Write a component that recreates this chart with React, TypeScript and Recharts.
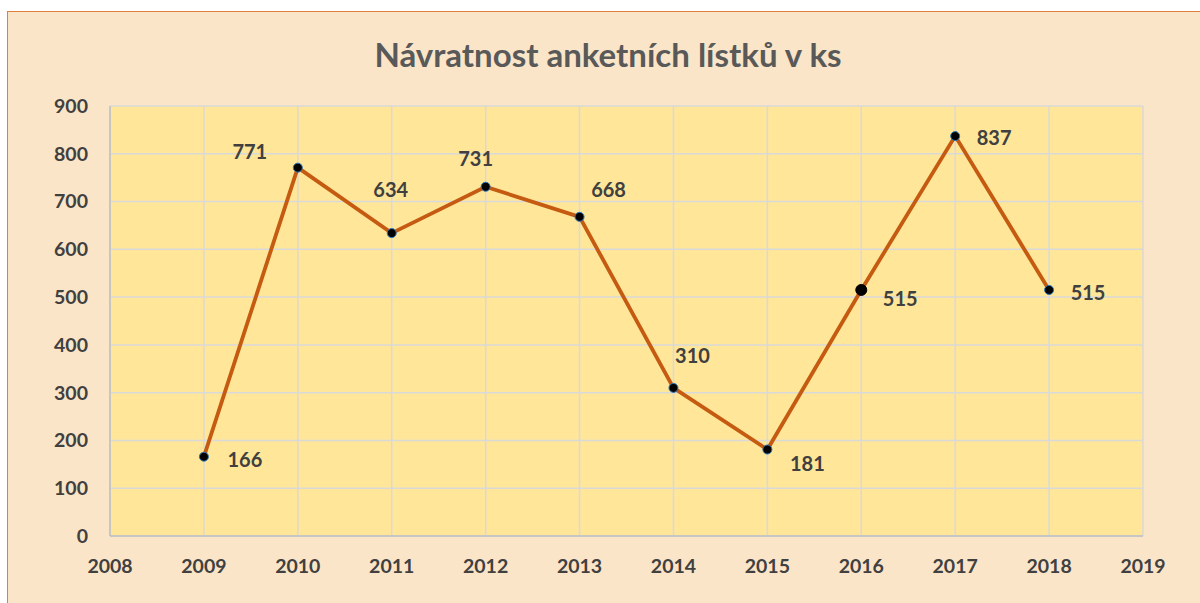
import { LineChart, Line, XAxis, YAxis, CartesianGrid, LabelList } from "recharts";

// Návratnost anketních lístků – returned survey forms per year
const YEARS = [2009, 2010, 2011, 2012, 2013, 2014, 2015, 2016, 2017, 2018];
const RETURNS = [166, 771, 634, 731, 668, 310, 181, 515, 837, 515];
const X_TICKS = [2008, 2009, 2010, 2011, 2012, 2013, 2014, 2015, 2016, 2017, 2018, 2019];
const Y_TICKS = [0, 100, 200, 300, 400, 500, 600, 700, 800, 900];

// where each data label sits relative to its point (Excel put them by hand)
const LABEL_OFFSETS: [number, number][] = [
  [41, 2],
  [-48, -17],
  [-1, -44],
  [-10, -29],
  [29, -28],
  [19, -33],
  [40, 13],
  [39, 8],
  [39, 1],
  [39, 2],
];

const FONT = "Lato, 'Open Sans', sans-serif";
const TEXT = "#404040";

const data = YEARS.map((year, i) => ({ year, value: RETURNS[i] }));

function ValueLabel(props: any) {
  const { x, y, value, index } = props;
  const [dx, dy] = LABEL_OFFSETS[index] ?? [0, -15];
  return (
    <text
      x={x + dx}
      y={y + dy}
      textAnchor="middle"
      dominantBaseline="central"
      fontFamily={FONT}
      fontWeight={700}
      fontSize={20}
      fill={TEXT}
    >
      {value}
    </text>
  );
}

function Dot(props: any) {
  const { cx, cy, index } = props;
  const big = index === 7;
  return (
    <circle
      cx={cx}
      cy={cy}
      r={big ? 5.5 : 4.5}
      fill="#000"
      stroke={big ? "#000" : "#2E75B6"}
      strokeWidth={1}
    />
  );
}

export default function App() {
  return (
    <div style={{ position: "absolute", left: 0, top: 0, width: 1200, height: 603, background: "#fff", overflow: "hidden" }}>
      <div
        style={{
          position: "absolute",
          left: 7,
          top: 11,
          width: 1210,
          height: 610,
          background: "#FBE5C8",
          border: "1.5px solid #E0803F",
          boxSizing: "border-box",
        }}
      />
      <div
        style={{
          position: "absolute",
          left: 0,
          width: 1216,
          top: 34,
          textAlign: "center",
          fontFamily: FONT,
          fontWeight: 700,
          fontSize: 33,
          color: "#595959",
        }}
      >
        Návratnost anketních lístků v ks
      </div>
      <div style={{ position: "absolute", left: 0, top: 0 }}>
        <LineChart
          width={1200}
          height={603}
          data={data}
          margin={{ top: 106, right: 57, bottom: 37, left: 50 }}
        >
          <CartesianGrid stroke="#D9D9D9" strokeWidth={1.5} fill="#FFE699" />
          <XAxis
            dataKey="year"
            type="number"
            domain={[2008, 2019]}
            ticks={X_TICKS}
            interval={0}
            height={30}
            axisLine={{ stroke: "#BFBFBF", strokeWidth: 1.5 }}
            tickLine={false}
            tickSize={0}
            tickMargin={23}
            tick={{ fontFamily: FONT, fontWeight: 700, fontSize: 19.5, fill: TEXT }}
          />
          <YAxis
            type="number"
            domain={[0, 900]}
            ticks={Y_TICKS}
            interval={0}
            width={60}
            axisLine={{ stroke: "#BFBFBF", strokeWidth: 1.5 }}
            tickLine={false}
            tickSize={0}
            tickMargin={22}
            tick={{ fontFamily: FONT, fontWeight: 700, fontSize: 19.5, fill: TEXT }}
          />
          <Line
            type="linear"
            dataKey="value"
            stroke="#C55A11"
            strokeWidth={3.8}
            dot={<Dot />}
            activeDot={false}
            isAnimationActive={false}
          >
            <LabelList dataKey="value" content={<ValueLabel />} />
          </Line>
        </LineChart>
      </div>
    </div>
  );
}
